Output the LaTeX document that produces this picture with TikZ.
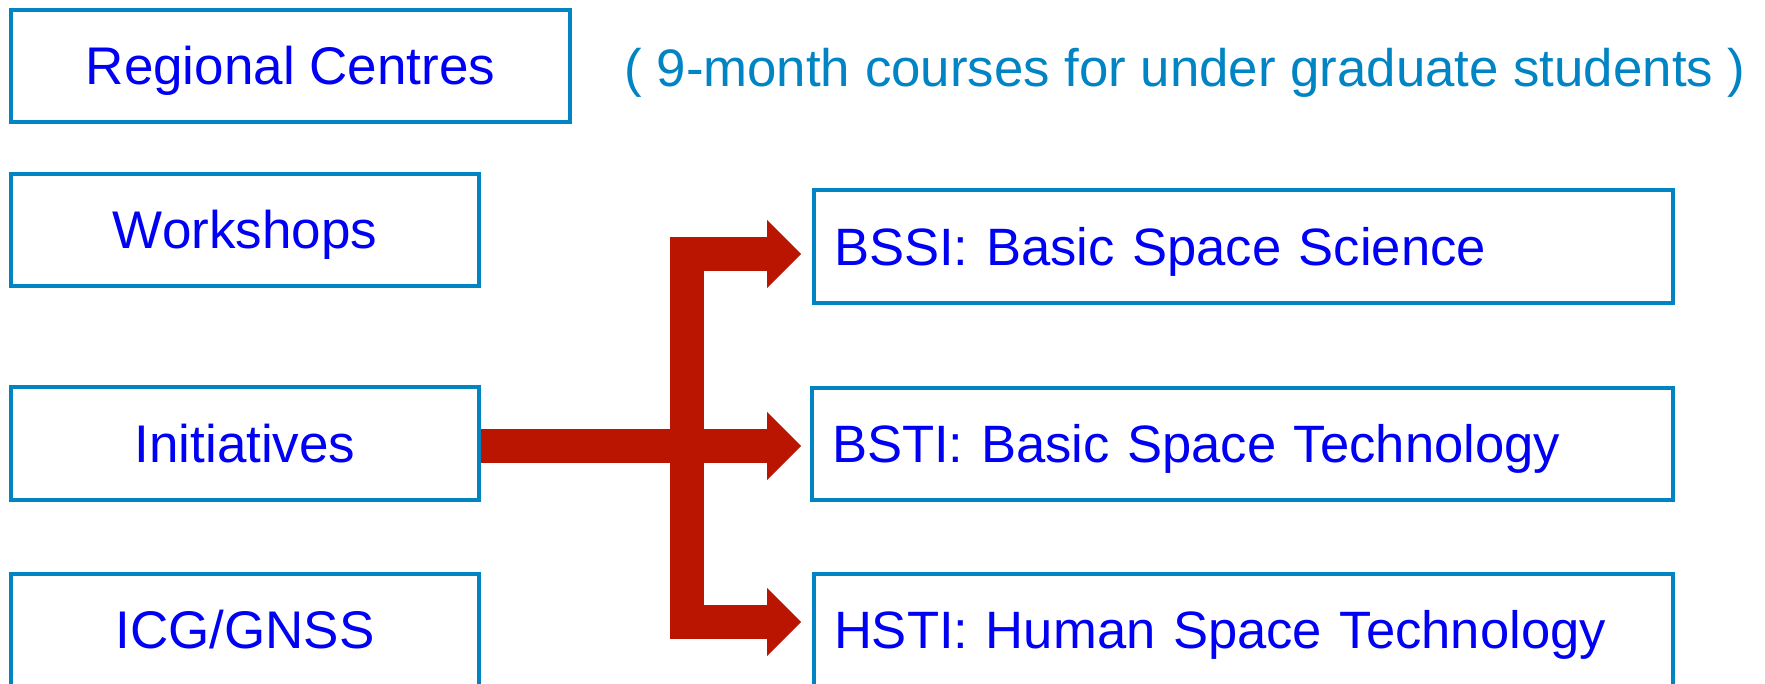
\documentclass[tikz,border=0pt]{standalone}
\usepackage{fontspec}
\setmainfont{Liberation Sans}
\usetikzlibrary{arrows.meta}
\definecolor{boxblue}{RGB}{0,132,196}
\definecolor{txtblue}{RGB}{0,0,245}
\definecolor{arrowred}{RGB}{186,21,0}
\begin{document}
\begin{tikzpicture}[x=1pt,y=-1pt,
  lbox/.style={draw=boxblue, line width=4.9pt, minimum height=112pt, inner sep=0pt,
    text=txtblue, font=\fontsize{53pt}{60pt}\selectfont,
    text height=37.9pt, text depth=0pt},
  rbox/.style={draw=boxblue, line width=4.7pt, minimum height=112pt, inner xsep=20pt,
    inner ysep=0pt, align=left, text=txtblue,
    font=\fontsize{52.6pt}{60pt}\selectfont, text height=37.7pt, text depth=0pt},
  bar/.style={draw=arrowred, line width=34pt, line join=miter},
  barhead/.style={bar, -{Triangle[length=34pt,width=68pt,line width=0pt]}}]
\useasboundingbox (0,0) rectangle (1765,684);
\fill[white] (0,0) rectangle (1765,684);
% left column
\node[lbox, minimum width=559pt] (rc) at (290.5,66) {Regional Centres};
\node[lbox, minimum width=468pt] (ws) at (245,230) {Workshops};
\node[lbox, minimum width=468pt, minimum height=113pt] (ini) at (245,443.5) {Initiatives};
\node[lbox, minimum width=468pt] (icg) at (245,630) {ICG/GNSS};
% title
\node[text=boxblue, font=\fontsize{52.8pt}{60pt}\selectfont, text height=37.8pt,
  text depth=0pt, inner sep=0pt] (title) at (1185,68)
  {( 9-month courses for under graduate students )};
% right column
\node[rbox, minimum width=859pt, minimum height=113pt, text width=819pt] (bssi) at (1243.5,246.5)
  {BSSI: Basic Space Science};
\node[rbox, minimum width=861pt, text width=821pt] (bsti) at (1242.5,444)
  {BSTI: Basic Space Technology};
\node[rbox, minimum width=859pt, text width=819pt] (hsti) at (1243.5,630)
  {HSTI: Human Space Technology};
% arrows
\coordinate (j) at (687,446);
\coordinate (a1) at (801,254);
\coordinate (a2) at (801,446);
\coordinate (a3) at (801,622);
\draw[bar] (ini.east |- j) -- (j);
\draw[barhead] (j) |- (a1);
\draw[barhead] (j) |- (a3);
\draw[barhead] (j) -- (a2);
\end{tikzpicture}
\end{document}
